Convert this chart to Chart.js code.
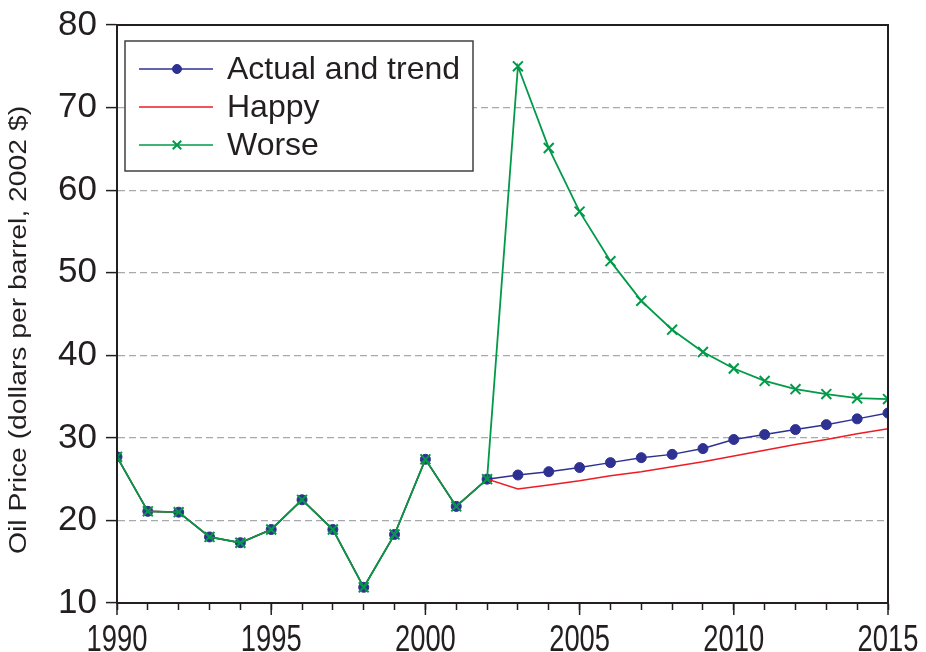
<!DOCTYPE html>
<html>
<head>
<meta charset="utf-8">
<script src="https://cdn.jsdelivr.net/npm/chart.js@4.4.1/dist/chart.umd.min.js"></script>
<style>
  body { margin: 0; background: #fff; }
  canvas { display: block; }
</style>
</head>
<body>
<canvas id="oilChart" width="926" height="652"></canvas>
<script>
// years on the x axis
const years = [1990, 1991, 1992, 1993, 1994, 1995, 1996, 1997, 1998, 1999, 2000, 2001, 2002,
               2003, 2004, 2005, 2006, 2007, 2008, 2009, 2010, 2011, 2012, 2013, 2014, 2015];
// actual prices 1990-2002 (shared by all three series)
const history = [27.7, 21.1, 21.0, 18.0, 17.3, 18.9, 22.5, 18.9, 11.9, 18.3, 27.4, 21.7, 25.0];
// 2003-2015 scenarios
const trend = [25.5, 25.9, 26.4, 27.0, 27.6, 28.0, 28.7, 29.8, 30.4, 31.0, 31.6, 32.3, 33.0];
const happy = [23.8, 24.3, 24.8, 25.4, 25.9, 26.5, 27.1, 27.8, 28.5, 29.2, 29.8, 30.5, 31.1];
const worse = [75.0, 65.1, 57.4, 51.4, 46.6, 43.1, 40.4, 38.4, 36.9, 35.9, 35.3, 34.8, 34.7];

const yTicks = [10, 20, 30, 40, 50, 60, 70, 80];
const xLabels = [1990, 1995, 2000, 2005, 2010, 2015];
const yTitle = 'Oil Price (dollars per barrel, 2002 $)';

const ink = '#231f20';
const toPoints = (future) => history.concat(future).map((v, i) => ({ x: years[i], y: v }));

// frame, tick labels, y title and legend
const decorations = {
    id: 'decorations',
    afterDraw(chart) {
        const ctx = chart.ctx;
        const area = chart.chartArea;
        const xs = chart.scales.x;

        ctx.save();
        // box round the plot
        ctx.strokeStyle = ink;
        ctx.lineWidth = 2;
        ctx.strokeRect(area.left, area.top, area.right - area.left, area.bottom - area.top);

        // long ticks every 5 years
        ctx.lineWidth = 1.5;
        xLabels.forEach(yr => {
            const px = xs.getPixelForValue(yr);
            ctx.beginPath();
            ctx.moveTo(px, area.bottom);
            ctx.lineTo(px, area.bottom + 12);
            ctx.stroke();
        });

        // x labels, a bit condensed like the original
        ctx.fillStyle = ink;
        ctx.font = '36px "Liberation Sans", Arial, sans-serif';
        ctx.textAlign = 'center';
        ctx.textBaseline = 'top';
        xLabels.forEach(yr => {
            const px = xs.getPixelForValue(yr);
            ctx.save();
            ctx.translate(px, area.bottom + 20);
            ctx.scale(0.76, 1);
            ctx.fillText(String(yr), 0, 0);
            ctx.restore();
        });

        // y title
        ctx.save();
        ctx.translate(20, 330);
        ctx.rotate(-Math.PI / 2);
        ctx.scale(1.23, 1);
        ctx.font = '23px "Liberation Sans", Arial, sans-serif';
        ctx.textBaseline = 'middle';
        ctx.fillText(yTitle, 0, 0);
        ctx.restore();

        // legend inside the plot
        const bx = area.left + 8, by = area.top + 16, bw = 348, bh = 130;
        ctx.fillStyle = '#fff';
        ctx.fillRect(bx, by, bw, bh);
        ctx.strokeStyle = '#414042';
        ctx.lineWidth = 1.5;
        ctx.strokeRect(bx, by, bw, bh);
        ctx.font = '32px "Liberation Sans", Arial, sans-serif';
        ctx.textAlign = 'left';
        ctx.textBaseline = 'middle';
        chart.data.datasets.forEach((ds, i) => {
            const ry = by + 28 + i * 38;
            ctx.strokeStyle = ds.borderColor;
            ctx.lineWidth = 1.5;
            ctx.beginPath();
            ctx.moveTo(bx + 14, ry);
            ctx.lineTo(bx + 88, ry);
            ctx.stroke();
            if (ds.pointRadius > 0) {
                ctx.fillStyle = ds.pointBackgroundColor;
                ctx.strokeStyle = ds.pointBorderColor;
                ctx.lineWidth = ds.pointBorderWidth;
                Chart.helpers.drawPoint(ctx, {
                    pointStyle: ds.pointStyle,
                    radius: ds.pointStyle === 'circle' ? 4.5 : 6,
                    borderWidth: ds.pointBorderWidth
                }, bx + 52, ry);
            }
            ctx.fillStyle = ink;
            ctx.fillText(ds.label, bx + 102, ry + 1);
        });
        ctx.restore();
    }
};

const ctx = document.getElementById('oilChart').getContext('2d');
const chart = new Chart(ctx, {
    type: 'line',
    data: {
        datasets: [{
            label: 'Actual and trend',
            data: toPoints(trend),
            borderColor: '#2e3192',
            backgroundColor: '#2e3192',
            pointBackgroundColor: '#2e3192',
            pointBorderColor: '#2e3192',
            pointStyle: 'circle',
            pointRadius: 5,
            pointBorderWidth: 1,
            borderWidth: 1.5,
            order: 3
        }, {
            label: 'Happy',
            data: toPoints(happy),
            borderColor: '#ed1c24',
            backgroundColor: '#ed1c24',
            pointRadius: 0,
            borderWidth: 1.5,
            order: 2
        }, {
            label: 'Worse',
            data: toPoints(worse),
            borderColor: '#009a48',
            backgroundColor: '#009a48',
            pointBorderColor: '#009a48',
            pointBackgroundColor: '#009a48',
            pointStyle: 'crossRot',
            pointRadius: 7,
            pointBorderWidth: 2,
            borderWidth: 1.8,
            order: 1
        }]
    },
    options: {
        responsive: false,
        animation: false,
        devicePixelRatio: 1,
        layout: { padding: { top: 25, right: 38, left: 0, bottom: 0 } },
        plugins: {
            legend: { display: false },
            tooltip: { enabled: false }
        },
        scales: {
            x: {
                type: 'linear',
                min: 1990,
                max: 2015,
                ticks: { stepSize: 1, display: false },
                grid: {
                    drawOnChartArea: false,
                    tickLength: 7,
                    tickColor: ink,
                    tickWidth: 1.5,
                    tickBorderDash: []
                },
                border: { display: true, color: ink, width: 2 },
                afterFit: (scale) => {
                    scale.height = 49;
                    scale.paddingLeft = 0;
                    scale.paddingRight = 0;
                }
            },
            y: {
                min: 10,
                max: 80,
                afterBuildTicks: (scale) => { scale.ticks = yTicks.map(v => ({ value: v })); },
                ticks: {
                    padding: 9,
                    color: ink,
                    font: { family: '"Liberation Sans", Arial, sans-serif', size: 35 }
                },
                grid: {
                    color: (c) => (c.tick && (c.tick.value === 10 || c.tick.value === 80)) ? 'rgba(0,0,0,0)' : '#a7a9ac',
                    lineWidth: 1.2,
                    tickLength: 11,
                    tickColor: ink,
                    tickWidth: 1.5,
                    tickBorderDash: []
                },
                border: { display: true, color: ink, width: 2, dash: [7, 4] },
                afterFit: (scale) => {
                    scale.width = 117;
                    scale.paddingTop = 0;
                    scale.paddingBottom = 0;
                }
            }
        }
    },
    plugins: [decorations]
});
</script>
</body>
</html>
